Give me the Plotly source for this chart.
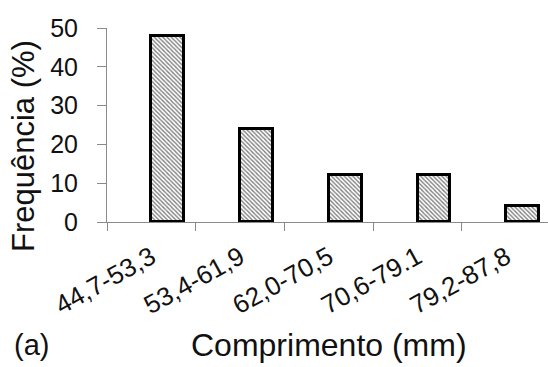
import plotly.graph_objects as go

categories = ["44,7-53,3", "53,4-61,9", "62,0-70,5", "70,6-79.1", "79,2-87,8"]
frequencies = [48, 24, 12, 12, 4]
y_ticks = [0, 10, 20, 30, 40, 50]

FONT = "Liberation Sans, Arial, sans-serif"
AXIS_GREY = "#8a8a8a"
TEXT = "#111111"

fig = go.Figure(
    go.Bar(
        x=categories,
        y=frequencies,
        width=0.37,
        offset=0,
        marker=dict(
            color="white",
            line=dict(color="black", width=3),
            pattern=dict(shape="\\", fgcolor="black", bgcolor="white", size=3, solidity=0.45),
        ),
        showlegend=False,
        hoverinfo="skip",
    )
)

fig.update_layout(
    width=548,
    height=367,
    margin=dict(l=107, r=0, t=28, b=145, autoexpand=False),
    paper_bgcolor="white",
    plot_bgcolor="white",
    font=dict(family=FONT, size=24, color=TEXT),
    bargap=0,
)

fig.update_xaxes(
    type="category",
    range=[-0.5, 4.47],
    automargin=False,
    showline=True,
    linecolor=AXIS_GREY,
    linewidth=1,
    ticks="outside",
    tickson="boundaries",
    ticklen=8,
    tickcolor=AXIS_GREY,
    tickangle=-29,
    tickfont=dict(size=26),
    ticklabelstandoff=9,
    showgrid=False,
    zeroline=False,
)

fig.update_yaxes(
    range=[0, 50],
    automargin=False,
    tickvals=y_ticks,
    showline=True,
    linecolor=AXIS_GREY,
    linewidth=1,
    ticks="outside",
    ticklen=9,
    tickcolor=AXIS_GREY,
    tickfont=dict(size=25),
    ticklabelstandoff=14,
    showgrid=False,
    zeroline=False,
)

fig.add_annotation(
    text="Frequência (%)", textangle=-90, xref="paper", yref="paper",
    x=(23 - 107) / 441, y=(222 - 146) / 194,
    xanchor="center", yanchor="middle", showarrow=False,
    font=dict(size=31, family=FONT, color=TEXT),
)
fig.add_annotation(
    text="Comprimento (mm)", xref="paper", yref="paper",
    x=(329 - 107) / 441, y=-(345 - 222) / 194,
    xanchor="center", yanchor="middle", showarrow=False,
    font=dict(size=32, family=FONT, color=TEXT),
)
fig.add_annotation(
    text="(a)", xref="paper", yref="paper",
    x=(31 - 107) / 441, y=-(345 - 222) / 194,
    xanchor="center", yanchor="middle", showarrow=False,
    font=dict(size=29, family=FONT, color=TEXT),
)

fig.write_html(
    "out.html",
    config={"displayModeBar": False},
    post_script="document.body.style.margin='0';document.body.style.overflow='hidden';",
)
